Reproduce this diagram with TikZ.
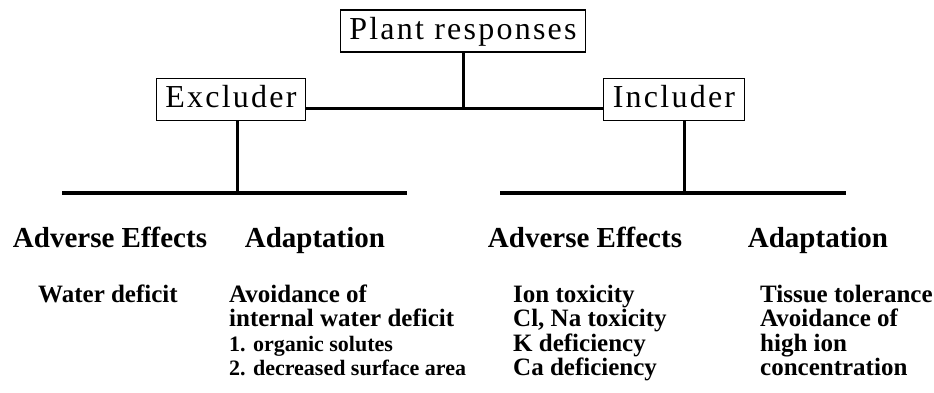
\documentclass[tikz,border=0pt]{standalone}
\usepackage{fontspec}
\setmainfont{Liberation Serif}
\newfontfamily\boxfont[LetterSpace=7]{Liberation Serif}
\usetikzlibrary{positioning}

\begin{document}
\begin{tikzpicture}[
    x = 1pt,
    y = -1pt,
    conn/.style = {line width=3pt},
    bar/.style = {line width=4pt},
    ]

    \tikzstyle{box}=[
    draw = black,
    line width = 1.2pt,
    fill = white,
    font = \boxfont\fontsize{32}{36}\selectfont,
    inner xsep = 9pt,
    inner ysep = 6pt,
    text height = 23pt,
    text depth = 7pt,
    ]
    \tikzstyle{head}=[
    anchor = base,
    inner sep = 0pt,
    font = \bfseries\fontsize{29}{32}\selectfont,
    ]
    % multi-line lists sit on the baseline of their last line
    \tikzstyle{list}=[
    anchor = base west,
    inner sep = 0pt,
    align = left,
    font = \bfseries\fontsize{25}{24.5}\selectfont,
    ]

    \useasboundingbox (0,0) rectangle (934,392);

    % boxes
    \node[box] (pr) at (463,31) {Plant responses};
    \node[box] (ex) at (231,99.5) {Excluder};
    \node[box] (in) at (674,99.5) {Includer};

    % joints
    \coordinate (mid) at (463,108);
    \coordinate (exfoot) at (237,193);
    \coordinate (infoot) at (684,193);
    \coordinate (exbarL) at (62,193);
    \coordinate (exbarR) at (407,193);
    \coordinate (inbarL) at (500,193);
    \coordinate (inbarR) at (846,193);

    \draw[conn] (pr.south) -- (mid);
    \draw[conn] (ex.east |- mid) -- (in.west |- mid);
    \draw[conn] (ex.south -| exfoot) -- (exfoot);
    \draw[conn] (in.south -| infoot) -- (infoot);
    \draw[bar] (exbarL) -- (exbarR);
    \draw[bar] (inbarL) -- (inbarR);

    % column heads
    \node[head] (exae) at (110,247) {Adverse Effects};
    \node[head] (exad) at (315,247) {Adaptation};
    \node[head] (inae) at (585,247) {Adverse Effects};
    \node[head] (inad) at (818,247) {Adaptation};

    % lists
    \node[list] (wd) at (38,302) {Water deficit};
    \node[list] (av) at (229,375.5) {Avoidance of\\internal water deficit\\
      {\fontsize{22}{24.5}\selectfont 1. organic solutes}\\
      {\fontsize{22}{24.5}\selectfont 2. decreased surface area}};
    \node[list] (ion) at (513,375.5) {Ion toxicity\\Cl, Na toxicity\\K deficiency\\Ca deficiency};
    \node[list] (tis) at (760,375.5) {Tissue tolerance\\Avoidance of\\high ion\\concentration};
\end{tikzpicture}
\end{document}
